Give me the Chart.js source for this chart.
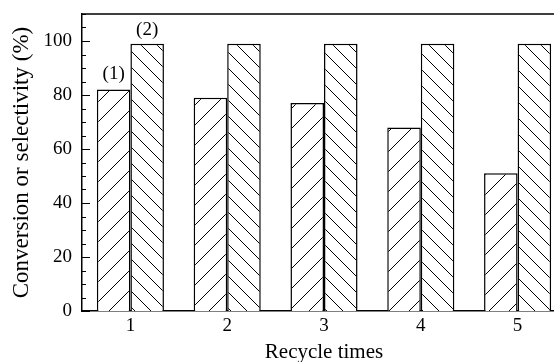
<!DOCTYPE html>
<html lang="en">
  <head>
    <meta charset="UTF-8" />
    <title>Recycle times</title>
    <script src="https://cdn.jsdelivr.net/npm/chart.js"></script>
    <style>
      body { margin: 0; overflow: hidden; background: #fff; }
    </style>
  </head>
  <body>
    <canvas id="recycle-chart" width="566" height="362"></canvas>

    <script>
      // datos
      const cycles = ['1', '2', '3', '4', '5'];
      const conversion = [82, 79, 77, 68, 51];   // (1)
      const selectivity = [99, 99, 99, 99, 99];  // (2)
      const yTicks = [0, 20, 40, 60, 80, 100];

      const serif = 'Liberation Serif';

      // rayado de las barras
      function hatch(size, forward) {
        const c = document.createElement('canvas');
        c.width = size;
        c.height = size;
        const g = c.getContext('2d');
        g.fillStyle = '#fff';
        g.fillRect(0, 0, size, size);
        g.strokeStyle = '#000';
        g.lineWidth = 1;
        g.beginPath();
        if (forward) {
          g.moveTo(-1, size + 1); g.lineTo(size + 1, -1);
          g.moveTo(-1, 1); g.lineTo(1, -1);
          g.moveTo(size - 1, size + 1); g.lineTo(size + 1, size - 1);
        } else {
          g.moveTo(-1, -1); g.lineTo(size + 1, size + 1);
          g.moveTo(size - 1, -1); g.lineTo(size + 1, 1);
          g.moveTo(-1, size - 1); g.lineTo(1, size + 1);
        }
        g.stroke();
        return g.createPattern(c, 'repeat');
      }

      // ticks hacia adentro, marco superior y etiquetas (1) (2)
      const framePlugin = {
        id: 'frame',
        afterDraw(chart) {
          const ctx = chart.ctx;
          const area = chart.chartArea;
          const y = chart.scales.y;
          ctx.save();
          ctx.strokeStyle = '#000';
          ctx.lineWidth = 1.5;
          ctx.beginPath();
          ctx.moveTo(area.left, area.top);
          ctx.lineTo(area.right, area.top);
          ctx.lineTo(area.right, area.bottom);
          ctx.stroke();

          ctx.lineWidth = 1;
          ctx.beginPath();
          for (let v = 0; v <= y.max; v += 5) {
            const py = Math.round(y.getPixelForValue(v)) + 0.5;
            const len = v % 20 === 0 ? 8 : 4;
            ctx.moveTo(area.left, py);
            ctx.lineTo(area.left + len, py);
          }
          ctx.stroke();

          ctx.fillStyle = '#000';
          ctx.font = '19px "' + serif + '"';
          ctx.textAlign = 'center';
          ctx.textBaseline = 'bottom';
          const b1 = chart.getDatasetMeta(0).data[0];
          const b2 = chart.getDatasetMeta(1).data[0];
          ctx.fillText('(1)', b1.x, b1.y - 6);
          ctx.fillText('(2)', b2.x, b2.y - 4);
          ctx.restore();
        }
      };

      const chart = new Chart(document.getElementById('recycle-chart'), {
        type: 'bar',
        data: {
          labels: cycles,
          datasets: [
            {
              label: '(1)',
              data: conversion,
              backgroundColor: hatch(20, true),
              borderColor: '#000',
              borderWidth: 1.5
            },
            {
              label: '(2)',
              data: selectivity,
              backgroundColor: hatch(16, false),
              borderColor: '#000',
              borderWidth: 1.5
            }
          ]
        },
        options: {
          responsive: false,
          animation: false,
          events: [],
          categoryPercentage: 0.693,
          barPercentage: 1,
          layout: { autoPadding: false, padding: { top: 14, right: 0, left: 0, bottom: 0 } },
          plugins: {
            legend: { display: false },
            tooltip: { enabled: false }
          },
          scales: {
            x: {
              grid: { display: false, drawTicks: false },
              border: { color: '#000', width: 1.5 },
              ticks: { color: '#000', padding: 4, font: { family: serif, size: 19 } },
              title: {
                display: true,
                text: 'Recycle times',
                color: '#000',
                padding: { top: 0, bottom: -3 },
                font: { family: serif, size: 21 }
              },
              afterFit(scale) {
                scale.height = 51;
                scale.paddingLeft = 0;
                scale.paddingRight = 0;
              }
            },
            y: {
              min: 0,
              max: 110,
              grid: { display: false, drawTicks: false },
              border: { color: '#000', width: 1.5 },
              ticks: {
                color: '#000',
                padding: 10,
                stepSize: 20,
                includeBounds: false,
                font: { family: serif, size: 19 },
                callback: (v) => (yTicks.includes(v) ? v : '')
              },
              title: {
                display: true,
                text: 'Conversion or selectivity (%)',
                color: '#000',
                padding: { top: 8, bottom: 0 },
                font: { family: serif, size: 23 }
              },
              afterFit(scale) {
                scale.width = 82;
                scale.paddingTop = 0;
                scale.paddingBottom = 0;
              }
            }
          }
        },
        plugins: [framePlugin]
      });
    </script>
  </body>
</html>
